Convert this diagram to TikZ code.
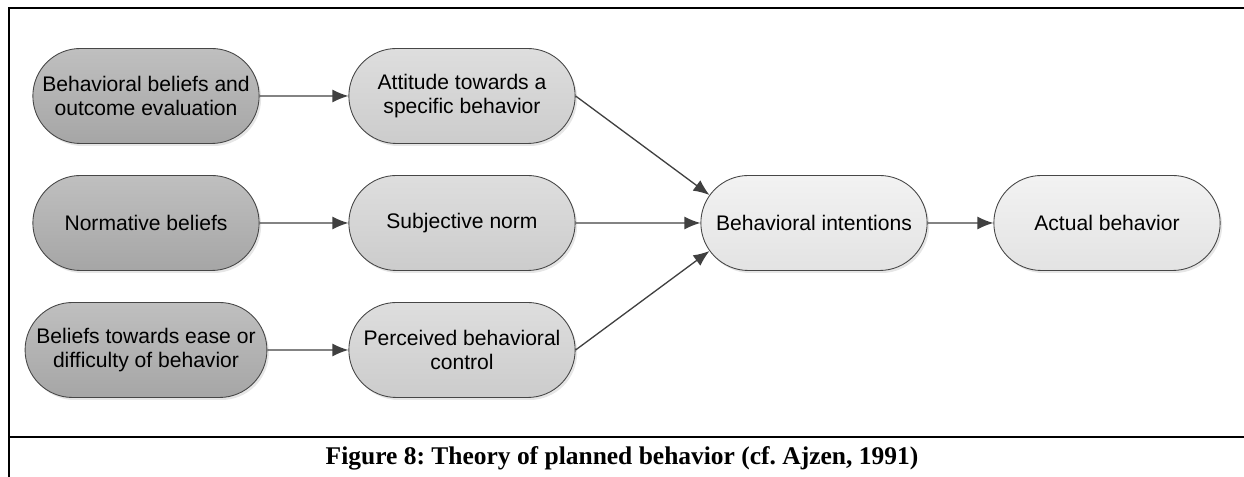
\documentclass[tikz,border=0pt]{standalone}
\usepackage{fontspec}
\setmainfont{Liberation Sans}
\newfontfamily\capfont{Liberation Serif}
\usetikzlibrary{shapes.misc,shadows,arrows.meta}
\frenchspacing

\definecolor{edgegray}{RGB}{70,70,70}
\definecolor{arrowgray}{RGB}{64,64,64}

\tikzset{
  pill/.style={rounded rectangle, draw=edgegray, line width=0.5pt,
    minimum width=4.76cm, minimum height=1.9cm, align=center,
    font=\fontsize{12}{14}\selectfont,
    drop shadow={shadow xshift=0.04cm, shadow yshift=-0.05cm, opacity=0.2}},
  belief/.style={pill, top color=black!25, bottom color=black!35},
  construct/.style={pill, top color=black!13, bottom color=black!20},
  outcome/.style={pill, top color=black!5, bottom color=black!11},
  link/.style={-{Latex[length=3.2mm,width=2.6mm]}, draw=arrowgray, line width=0.75pt}
}

\begin{document}
\begin{tikzpicture}
\useasboundingbox (0,0) rectangle (24.88,9.54);
%% frame
\draw[line width=1.1pt] (24.88,9.38) -- (0.18,9.38) -- (0.18,0);
\draw[line width=1.1pt] (0.18,0.8) -- (24.88,0.8);
%
% beliefs
\node[belief] (bb) at (2.92,7.62) {Behavioral beliefs and\\outcome evaluation};
\node[belief] (nb) at (2.92,5.08) {Normative beliefs};
\node[belief] (cb) at (2.92,2.54) {Beliefs towards ease or\\difficulty of behavior};
% constructs
\node[construct] (att) at (9.24,7.62) {Attitude towards a\\specific behavior};
\node[construct] (sn) at (9.24,5.08) {Subjective norm};
\node[construct] (pbc) at (9.24,2.54) {Perceived behavioral\\control};
% intention and behavior
\node[outcome] (bi) at (16.28,5.08) {Behavioral intentions};
\node[outcome] (ab) at (22.14,5.08) {Actual behavior};
%
\draw[link] (bb) -- (att);
\draw[link] (nb) -- (sn);
\draw[link] (cb) -- (pbc);
\draw[link] (att.east) -- (bi.165);
\draw[link] (sn) -- (bi);
\draw[link] (pbc.east) -- (bi.195);
\draw[link] (bi) -- (ab);
%
% caption
\node[anchor=base, font=\capfont\bfseries\fontsize{14.5}{16}\selectfont] (cap) at (12.44,0.24)
  {Figure 8: Theory of planned behavior (cf. Ajzen, 1991)};
\end{tikzpicture}
\end{document}
